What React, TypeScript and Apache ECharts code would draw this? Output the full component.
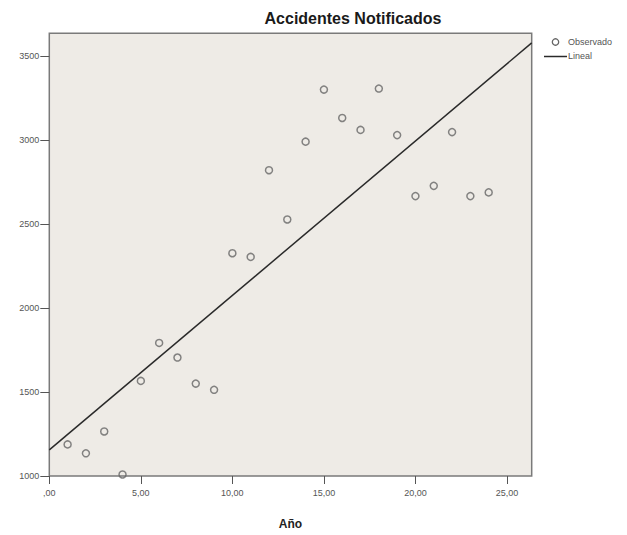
import React, { useEffect, useRef } from "react";
import * as echarts from "echarts";

const years: number[] = [1, 2, 3, 4, 5, 6, 7, 8, 9, 10, 11, 12, 13, 14, 15, 16, 17, 18, 19, 20, 21, 22, 23, 24];
const accidents: number[] = [1188, 1135, 1265, 1009, 1566, 1792, 1705, 1550, 1513, 2326, 2304, 2820, 2527, 2990, 3300, 3131, 3060, 3306, 3029, 2666, 2727, 3047, 2666, 2688];
const xTicks: number[] = [0, 5, 10, 15, 20, 25];
const yTicks: number[] = [1000, 1500, 2000, 2500, 3000, 3500];
const legendLabels: string[] = ["Observado", "Lineal"];
const xMin = 0;
const xMax = 26.35;
const yMin = 1000;
const yMax = 3635;

function linearFit(xs: number[], ys: number[]) {
  const n = xs.length;
  const mx = xs.reduce((a, b) => a + b, 0) / n;
  const my = ys.reduce((a, b) => a + b, 0) / n;
  let sxy = 0;
  let sxx = 0;
  for (let i = 0; i < n; i++) {
    sxy += (xs[i] - mx) * (ys[i] - my);
    sxx += (xs[i] - mx) * (xs[i] - mx);
  }
  const slope = sxy / sxx;
  return { slope, intercept: my - slope * mx };
}

export default function App() {
  const ref = useRef<HTMLDivElement>(null);
  useEffect(() => {
    if (!ref.current) return;
    const chart = echarts.init(ref.current, undefined, { renderer: "svg" });
    const fit = linearFit(years, accidents);
    const fitLine = [xMin, xMax].map((x) => [x, fit.intercept + fit.slope * x]);
    const font = 'Arial, "Liberation Sans", sans-serif';
    const fmtX = (v: number) => (v === 0 ? ",00" : v.toFixed(2).replace(".", ","));
    chart.setOption({
      animation: false,
      backgroundColor: "#ffffff",
      textStyle: { fontFamily: font },
      title: {
        text: "Accidentes Notificados",
        left: 353,
        top: 10,
        textAlign: "center",
        padding: 0,
        textStyle: { fontSize: 16, fontWeight: "bold", color: "#1a1a1a", fontFamily: font },
      },
      graphic: [
        {
          type: "circle",
          shape: { cx: 555.5, cy: 42, r: 3.2 },
          style: { fill: "none", stroke: "#666", lineWidth: 1.3 },
        },
        {
          type: "text",
          x: 568,
          y: 42,
          style: { text: legendLabels[0], font: `9px ${font}`, fill: "#555", textVerticalAlign: "middle" },
        },
        {
          type: "line",
          shape: { x1: 544, y1: 56.5, x2: 567, y2: 56.5 },
          style: { stroke: "#2a2a2a", lineWidth: 1.5 },
        },
        {
          type: "text",
          x: 568,
          y: 56,
          style: { text: legendLabels[1], font: `9px ${font}`, fill: "#555", textVerticalAlign: "middle" },
        },
      ],
      grid: {
        left: 49.3,
        top: 33.3,
        width: 482.4,
        height: 452.2,
        show: true,
        backgroundColor: "#eeebe6",
        borderColor: "#7a7a7a",
        borderWidth: 1.5,
        containLabel: false,
      },
      xAxis: {
        type: "value",
        min: xMin,
        max: xMax,
        axisLine: { show: false },
        splitLine: { show: false },
        axisTick: { show: true, length: 8, customValues: xTicks, lineStyle: { color: "#555", width: 1 } },
        axisLabel: { customValues: xTicks, formatter: fmtX, fontSize: 9, color: "#555", margin: 12, fontFamily: font },
        name: "Año",
        nameLocation: "middle",
        nameGap: 42,
        nameTextStyle: { fontSize: 12, fontWeight: "bold", color: "#222", fontFamily: font },
      },
      yAxis: {
        type: "value",
        min: yMin,
        max: yMax,
        axisLine: { show: false },
        splitLine: { show: false },
        axisTick: { show: true, length: 9, customValues: yTicks, lineStyle: { color: "#555", width: 1 } },
        axisLabel: {
          customValues: yTicks,
          formatter: (v: number) => String(v),
          fontSize: 9,
          color: "#555",
          margin: 10,
          fontFamily: font,
        },
      },
      series: [
        {
          name: legendLabels[0],
          type: "scatter",
          symbol: "circle",
          symbolSize: 7,
          data: years.map((x, i) => [x, accidents[i]]),
          itemStyle: { color: "rgba(0,0,0,0)", borderColor: "#666", borderWidth: 1.5 },
          z: 3,
        },
        {
          name: legendLabels[1],
          type: "line",
          data: fitLine,
          showSymbol: false,
          symbol: "none",
          lineStyle: { color: "#2a2a2a", width: 1.5 },
          clip: true,
          z: 2,
        },
      ],
    });
    return () => chart.dispose();
  }, []);
  return <div ref={ref} style={{ position: "absolute", left: 0, top: 0, width: 627, height: 535 }} />;
}
